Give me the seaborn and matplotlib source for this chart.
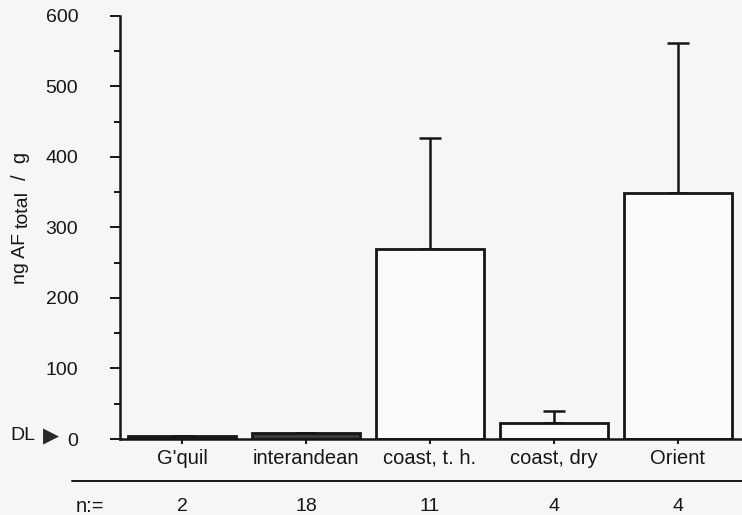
import matplotlib
matplotlib.use("Agg")
import matplotlib.pyplot as plt
import matplotlib.transforms as mtransforms
from matplotlib.lines import Line2D
from matplotlib.ticker import MultipleLocator
import seaborn as sns
import pandas as pd

# ---- data ----
categories = ["G'quil", "interandean", "coast, t. h.", "coast, dry", "Orient"]
means = [4, 8, 270, 22, 348]
err_upper = [0, 0, 156, 17, 214]
n_values = ["2", "18", "11", "4", "4"]
bar_colors = ["#3a3a3a", "#3a3a3a", "#fbfbfb", "#fbfbfb", "#fbfbfb"]
y_ticks = [0, 100, 200, 300, 400, 500, 600]

sns.set_theme(style="ticks")
plt.rcParams["font.family"] = ["Liberation Sans", "DejaVu Sans"]

ink = "#161616"
bg = "#f6f6f6"

fig = plt.figure(figsize=(7.42, 5.15), dpi=100, facecolor=bg)
ax = fig.add_axes([120 / 742, 76 / 515, 1 - 120 / 742, 423.3 / 515])
ax.set_facecolor(bg)

df = pd.DataFrame({"region": categories, "value": means})
sns.barplot(data=df, x="region", y="value", hue="region", palette=bar_colors,
            legend=False, width=0.87, edgecolor=ink, linewidth=2.0, ax=ax,
            saturation=1, zorder=2)

xs = list(range(len(categories)))
ax.errorbar(xs, means, yerr=[[0] * len(means), err_upper], fmt="none",
            ecolor=ink, elinewidth=1.8, capsize=8, capthick=1.8, zorder=1)

ax.set_xlim(-0.5, (742 - 182) / 124)
ax.set_ylim(0, 600)
ax.set_yticks(y_ticks)
ax.yaxis.set_minor_locator(MultipleLocator(50))
ax.tick_params(axis="y", which="major", length=7, width=1.4, color=ink,
               labelsize=14, pad=23, labelcolor=ink)
ax.tick_params(axis="y", which="minor", length=4.5, width=1.4, color=ink)
ax.tick_params(axis="x", which="major", length=3.5, width=1.4, color=ink,
               labelsize=14.5, pad=3.5, labelcolor=ink)
for s in ["top", "right"]:
    ax.spines[s].set_visible(False)
for s in ["left", "bottom"]:
    ax.spines[s].set_color(ink)
    ax.spines[s].set_linewidth(1.8)

ax.set_xlabel("")
ax.set_ylabel("")

# y-axis label built from pieces (subscript "total")
fig.text(20.5 / 742, 1 - 259 / 515, "ng AF", rotation=90, ha="center",
         va="center", fontsize=14, color=ink)
fig.text(23.5 / 742, 1 - 209 / 515, "total", rotation=90, ha="center",
         va="center", fontsize=14, color=ink)
fig.text(20.5 / 742, 1 - 166 / 515, "/  g", rotation=90, ha="center",
         va="center", fontsize=14.5, color=ink)

# separator line and n values
fig.add_artist(Line2D([72 / 742, 1.0], [1 - 481 / 515, 1 - 481 / 515],
                      color=ink, linewidth=1.4))
trans = mtransforms.blended_transform_factory(ax.transData, ax.transAxes)
for i, n in enumerate(n_values):
    ax.text(i, -0.1606, n, transform=trans, ha="center", va="center",
            fontsize=14, color=ink, clip_on=False)
fig.text(90 / 742, 1 - 507 / 515, "n:=", ha="center", va="center",
         fontsize=14.5, color=ink)

# detection limit marker
fig.text(10 / 742, 1 - 435 / 515, "DL", ha="left", va="center",
         fontsize=14, color=ink)
fig.text(43 / 742, 1 - 436 / 515, "\u25B6", ha="left", va="center",
         fontsize=15, color="#2a2a2a", family=["DejaVu Sans"])

fig.savefig("out.png", dpi=100, facecolor=bg)
